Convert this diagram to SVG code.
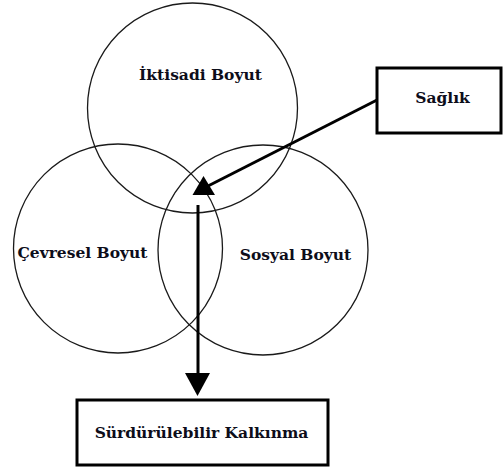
<svg xmlns="http://www.w3.org/2000/svg" width="504" height="470" viewBox="0 0 504 470">
<style>
.c{fill:none;stroke:#1a1a1a;stroke-width:1.3}
.b{fill:#fff;stroke:#000;stroke-width:3}
.t{font-family:"DejaVu Serif","Liberation Serif",serif;font-weight:bold;font-size:15.5px;fill:#0d0d1a;text-anchor:middle}
.l{stroke:#000;stroke-width:3;fill:none}
.h{fill:#000}
</style>
<rect width="504" height="470" fill="#fff"/>
<g id="iktisadi"><circle class="c" cx="192.5" cy="108" r="105"/><text class="t" x="200.5" y="80">İktisadi Boyut</text></g>
<g id="cevresel"><circle class="c" cx="118" cy="248.5" r="104.5"/><text class="t" x="82.5" y="258">Çevresel Boyut</text></g>
<g id="sosyal"><circle class="c" cx="263" cy="250" r="105"/><text class="t" x="295.5" y="260">Sosyal Boyut</text></g>
<g id="saglik"><rect class="b" x="377" y="68" width="124" height="65"/><text class="t" x="442.5" y="103">Sağlık</text></g>
<g id="surdurulebilir"><rect class="b" x="77" y="400" width="251" height="65"/><text class="t" x="201.5" y="438">Sürdürülebilir Kalkınma</text></g>
<g id="connectors">
<line class="l" x1="377" y1="100" x2="208" y2="186"/>
<polygon class="h" points="203.5,176 192.5,195 215,195"/>
<line class="l" x1="198" y1="205" x2="198" y2="376"/>
<polygon class="h" points="185,373 210,373 197.5,396"/>
</g>
</svg>
